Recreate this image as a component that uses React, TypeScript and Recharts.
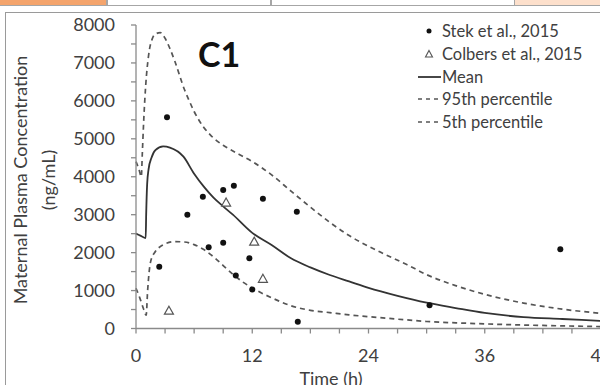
import React from 'react';
import {
  ComposedChart,
  Line,
  Scatter,
  XAxis,
  YAxis,
  Legend,
  Customized,
} from 'recharts';

const FONT = 'Lato, "Open Sans", sans-serif';
const TEXT = '#404040';
const AXIS = '#8a8a8a';
const MEAN_STROKE = '#333333';
const PCT_STROKE = '#555555';

// time (h) ticks, majors labelled every 12 h
const X_TICKS = [0, 3, 6, 9, 12, 15, 18, 21, 24, 27, 30, 33, 36, 39, 42, 45, 48];
const Y_TICKS = [0, 500, 1000, 1500, 2000, 2500, 3000, 3500, 4000, 4500, 5000, 5500, 6000, 6500, 7000, 7500, 8000];

const MEAN_T = [0, 0.5, 1.0, 1.05, 1.15, 1.3, 1.6, 2.0, 2.8, 3.5, 4.9, 6, 7, 8, 9, 10, 12, 14, 16, 18, 20, 22, 24, 27, 30, 33, 36, 40, 44, 48];
const MEAN_C = [2500, 2440, 2380, 3000, 3800, 4200, 4500, 4700, 4800, 4770, 4530, 4080, 3740, 3450, 3220, 3000, 2520, 2200, 1850, 1610, 1410, 1240, 1070, 860, 680, 540, 410, 300, 250, 200];

const P95_T = [0, 0.3, 0.55, 0.65, 0.8, 1.0, 1.3, 1.7, 2.0, 2.5, 3, 3.5, 4, 5, 5.5, 6, 6.5, 7, 7.5, 8, 9, 10, 11, 12, 14, 16, 18, 20, 22, 25, 28, 30, 33, 36, 40, 44, 48];
const P95_C = [4400, 4200, 4000, 4600, 5500, 6400, 7200, 7650, 7760, 7800, 7650, 7380, 7050, 6300, 6000, 5720, 5490, 5300, 5150, 5020, 4830, 4680, 4540, 4400, 4050, 3620, 3200, 2800, 2450, 2040, 1680, 1420, 1130, 900, 670, 510, 400];

const P5_T = [0, 0.4, 0.8, 1.05, 1.2, 1.5, 2, 2.5, 3, 4, 5, 6, 7, 8, 9, 10, 11, 12, 13, 14, 16, 18, 20, 22, 25, 28, 30, 34, 38, 42, 48];
const P5_C = [1060, 800, 500, 350, 1000, 1750, 2030, 2160, 2230, 2290, 2280, 2210, 2080, 1890, 1660, 1430, 1230, 1070, 930, 810, 600, 480, 420, 360, 290, 225, 185, 140, 105, 80, 50];

const STEK_T = [2.4, 3.2, 5.3, 6.9, 7.5, 9.0, 9.0, 10.1, 10.3, 11.7, 12.0, 13.1, 16.6, 16.7, 30.3, 43.8];
const STEK_C = [1630, 5570, 3000, 3470, 2140, 3650, 2260, 3760, 1400, 1850, 1030, 3420, 3080, 180, 610, 2090];

const COLBERS_T = [3.4, 9.3, 12.2, 13.1];
const COLBERS_C = [470, 3320, 2290, 1310];

const LEGEND_ITEMS = [
  { label: 'Stek et al., 2015', kind: 'dot' },
  { label: 'Colbers et al., 2015', kind: 'triangle' },
  { label: 'Mean', kind: 'solid' },
  { label: '95th percentile', kind: 'dash' },
  { label: '5th percentile', kind: 'dash' },
];

const toPoints = (ts: number[], cs: number[]) => ts.map((t, i) => ({ t, c: cs[i] }));

const meanData = toPoints(MEAN_T, MEAN_C);
const p95Data = toPoints(P95_T, P95_C);
const p5Data = toPoints(P5_T, P5_C);
const stekData = toPoints(STEK_T, STEK_C);
const colbersData = toPoints(COLBERS_T, COLBERS_C);

const Dot = (props: any) => <circle cx={props.cx} cy={props.cy} r={3} fill="#111" />;

const Triangle = (props: any) => {
  const { cx, cy } = props;
  return (
    <path
      d={`M${cx},${cy - 4.5} L${cx + 4.5},${cy + 3.5} L${cx - 4.5},${cy + 3.5} Z`}
      fill="#fff"
      stroke={PCT_STROKE}
      strokeWidth={1.2}
    />
  );
};

const LegendIcon = ({ kind }: { kind: string }) => (
  <svg width={24} height={14} style={{ display: 'block' }}>
    {kind === 'dot' && <circle cx={11} cy={7} r={2.5} fill="#111" />}
    {kind === 'triangle' && (
      <path d="M11,3.5 L14.5,10 L7.5,10 Z" fill="#fff" stroke={PCT_STROKE} strokeWidth={1.1} />
    )}
    {kind === 'solid' && <line x1={0} y1={7} x2={23} y2={7} stroke={MEAN_STROKE} strokeWidth={1.8} />}
    {kind === 'dash' && (
      <line x1={0} y1={7} x2={22} y2={7} stroke={PCT_STROKE} strokeWidth={1.6} strokeDasharray="4 4" />
    )}
  </svg>
);

const renderLegend = () => (
  <div style={{ fontFamily: FONT, fontSize: 16.5, color: TEXT }}>
    {LEGEND_ITEMS.map((item) => (
      <div key={item.label} style={{ display: 'flex', alignItems: 'center', height: 22.7 }}>
        <LegendIcon kind={item.kind} />
        <span style={{ whiteSpace: 'nowrap' }}>{item.label}</span>
      </div>
    ))}
  </div>
);

const YTitle = () => (
  <text transform="rotate(-90)" fontFamily={FONT} fontSize={18} fill={TEXT} textAnchor="middle">
    <tspan x={-180} y={27}>Maternal Plasma Concentration</tspan>
    <tspan x={-180} y={55}>(ng/mL)</tspan>
  </text>
);

const XTitle = () => (
  <text x={331} y={385} fontFamily={FONT} fontSize={18} fill={TEXT} textAnchor="middle">
    Time (h)
  </text>
);

const PanelTag = () => (
  <text x={219} y={67} fontFamily={FONT} fontSize={34} fontWeight={700} fill="#111" textAnchor="middle">
    C1
  </text>
);

const tickStyle = { fill: TEXT, fontSize: 18, fontFamily: FONT };

export default function App() {
  return (
    <div
      style={{
        position: 'absolute',
        left: 0,
        top: 0,
        width: 600,
        height: 385,
        overflow: 'hidden',
        background: '#fff',
      }}
    >
      {/* strip of the neighbouring table/figure above the panel */}
      <div style={{ position: 'absolute', left: 0, top: 0, width: 600, height: 5, borderBottom: '1.5px solid #a6a6a6' }}>
        <div style={{ position: 'absolute', left: 0, top: 0, width: 106, height: 5, background: '#f4a46c' }} />
        <div style={{ position: 'absolute', left: 106, top: 0, width: 1.5, height: 5, background: '#a6a6a6' }} />
        <div style={{ position: 'absolute', left: 270, top: 0, width: 1.5, height: 5, background: '#a6a6a6' }} />
        <div style={{ position: 'absolute', left: 514, top: 0, width: 86, height: 5, background: '#fde0cc', borderLeft: '1.5px solid #a6a6a6' }} />
      </div>
      <div
        style={{
          position: 'absolute',
          left: 5,
          top: 12,
          width: 620,
          height: 400,
          borderLeft: '1.5px solid #9a9a9a',
          borderTop: '1.5px solid #9a9a9a',
        }}
      />
      <div style={{ position: 'absolute', left: 0, top: 0 }}>
        <ComposedChart width={615} height={385} margin={{ top: 25, right: 14, bottom: 26.5, left: 76 }}>
          <XAxis
            type="number"
            dataKey="t"
            domain={[0, 48]}
            ticks={X_TICKS}
            interval={0}
            tickFormatter={(v: number) => (v % 12 === 0 ? String(v) : '')}
            height={30}
            tick={tickStyle}
            tickSize={5}
            tickMargin={16}
            stroke={AXIS}
            strokeWidth={1.3}
            label={<XTitle />}
          />
          <YAxis
            type="number"
            dataKey="c"
            domain={[0, 8000]}
            ticks={Y_TICKS}
            interval={0}
            tickFormatter={(v: number) => (v % 1000 === 0 ? String(v) : '')}
            width={60}
            tick={tickStyle}
            tickSize={5}
            tickMargin={16}
            stroke={AXIS}
            strokeWidth={1.3}
            label={<YTitle />}
          />
          <Legend
            content={renderLegend}
            layout="horizontal"
            verticalAlign="middle"
            align="center"
            wrapperStyle={{ left: 418, top: 20, width: 190 }}
          />
          <Line
            data={p95Data}
            dataKey="c"
            name="95th percentile"
            type="monotone"
            stroke={PCT_STROKE}
            strokeWidth={1.7}
            strokeDasharray="5 4"
            dot={false}
            isAnimationActive={false}
          />
          <Line
            data={p5Data}
            dataKey="c"
            name="5th percentile"
            type="monotone"
            stroke={PCT_STROKE}
            strokeWidth={1.7}
            strokeDasharray="5 4"
            dot={false}
            isAnimationActive={false}
          />
          <Line
            data={meanData}
            dataKey="c"
            name="Mean"
            type="monotone"
            stroke={MEAN_STROKE}
            strokeWidth={1.8}
            dot={false}
            isAnimationActive={false}
          />
          <Scatter data={stekData} dataKey="c" name="Stek et al., 2015" shape={Dot} isAnimationActive={false} />
          <Scatter data={colbersData} dataKey="c" name="Colbers et al., 2015" shape={Triangle} isAnimationActive={false} />
          <Customized component={PanelTag} />
        </ComposedChart>
      </div>
    </div>
  );
}
